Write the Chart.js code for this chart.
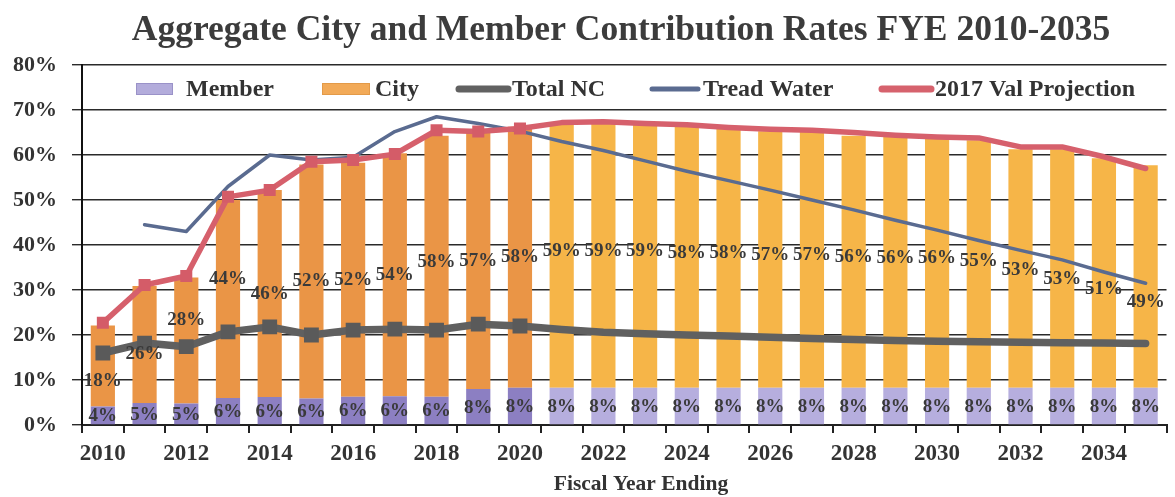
<!DOCTYPE html>
<html><head><meta charset="utf-8">
<script src="https://cdn.jsdelivr.net/npm/chart.js@4"></script>
<style>
html,body{margin:0;padding:0;background:#fff;overflow:hidden}
#wrap{position:absolute;left:0;top:0;width:1177px;height:497px}
</style>
</head><body><div id="wrap"><canvas id="c"></canvas></div>
<script>
const years = ['2010','2011','2012','2013','2014','2015','2016','2017','2018','2019','2020','2021','2022','2023','2024','2025','2026','2027','2028','2029','2030','2031','2032','2033','2034','2035'];
const memberRate = [4.1,4.9,4.8,6.0,6.2,5.9,6.3,6.4,6.3,8.0,8.3,8.3,8.3,8.3,8.3,8.3,8.3,8.3,8.3,8.3,8.3,8.3,8.3,8.3,8.3,8.3];
const cityRate = [18,26,28,44,46,52,52,54,58,57,58,59,59,59,58,58,57,57,56,56,56,55,53,53,51,49.4];
const totalNC = [16,18.2,17.4,20.7,21.8,20,21.1,21.3,21.1,22.4,22,21.2,20.6,20.3,20,19.8,19.5,19.2,19,18.8,18.6,18.5,18.4,18.3,18.2,18.1];
const treadWater = [null,44.5,43,53,60,58.9,59.5,65.2,68.5,67,65.3,63,61,58.7,56.4,54.3,52.2,50,47.8,45.5,43.3,41,38.8,36.7,34,31.5];
const valProjection = [22.7,31.1,33.1,50.7,52.2,58.5,58.9,60.2,65.5,65.2,65.9,67.2,67.4,67,66.7,66.1,65.7,65.5,65,64.4,64,63.8,61.8,61.8,59.6,57];
const yTickValues = [0,10,20,30,40,50,60,70,80];
const chartTitle = 'Aggregate City and Member Contribution Rates FYE 2010-2035';
const xAxisTitle = 'Fiscal Year Ending';

const SERIF = "'Liberation Serif','Times New Roman',serif";
const histCount = 11; // 2010-2020 are actuals

const cityLabelShift = [15,10,-20,-20,0,0,0,0,-4,0,0,-4,-4,-4,-4,-4,-4,-4,-5,-4,-4,-3,2,11,16,26];

const labelPlugin = {
  id: 'barLabels',
  afterDatasetsDraw(chart) {
    const ctx = chart.ctx;
    ctx.save();
    ctx.font = 'bold 19px ' + SERIF;
    ctx.fillStyle = '#3a3a3a';
    ctx.textAlign = 'center';
    ctx.textBaseline = 'middle';
    const mMeta = chart.getDatasetMeta(0);
    const cMeta = chart.getDatasetMeta(1);
    mMeta.data.forEach((bar, i) => {
      const v = chart.data.datasets[0].data[i];
      ctx.fillText(Math.round(v) + '%', bar.x, (bar.y + bar.base) / 2 + 1);
    });
    cMeta.data.forEach((bar, i) => {
      const v = chart.data.datasets[1].data[i];
      ctx.fillText(Math.round(v) + '%', bar.x, (bar.y + bar.base) / 2 + cityLabelShift[i]);
    });
    ctx.restore();
  }
};

const textPlugin = {
  id: 'titles',
  afterDraw(chart) {
    const ctx = chart.ctx;
    ctx.save();
    ctx.textAlign = 'center';
    ctx.textBaseline = 'alphabetic';
    ctx.fillStyle = '#3c3c3c';
    ctx.font = 'bold 35.5px ' + SERIF;
    ctx.fillText(chartTitle, 621, 40);
    ctx.fillStyle = '#333';
    ctx.font = 'bold 21.5px ' + SERIF;
    ctx.fillText(xAxisTitle, 641, 490);
    ctx.restore();
  }
};

const legendPlugin = {
  id: 'inLegend',
  afterDraw(chart) {
    const ctx = chart.ctx;
    const ds = chart.data.datasets;
    const y = 89;
    const items = [
      {i:0, kind:'box', x0:136, x1:173, tx:186, color:'#B3ACDB', stroke:'#9A92C8'},
      {i:1, kind:'box', x0:322, x1:370, tx:375, color:'#F2AA58', stroke:'#E39A48'},
      {i:2, kind:'line', x0:459, x1:508, tx:512, color:'#616161', w:7},
      {i:3, kind:'line', x0:652, x1:698, tx:703, color:'#5A6B90', w:5},
      {i:4, kind:'line', x0:882, x1:931, tx:935, color:'#D6626D', w:7}
    ];
    ctx.save();
    ctx.font = 'bold 24px ' + SERIF;
    ctx.textBaseline = 'middle';
    ctx.textAlign = 'left';
    items.forEach(it => {
      if (it.kind === 'box') {
        ctx.fillStyle = it.color;
        ctx.fillRect(it.x0, y - 6, it.x1 - it.x0, 12);
        ctx.strokeStyle = it.stroke; ctx.lineWidth = 1;
        ctx.strokeRect(it.x0 + 0.5, y - 5.5, it.x1 - it.x0 - 1, 11);
      } else {
        ctx.strokeStyle = it.color; ctx.lineWidth = it.w; ctx.lineCap = 'round';
        ctx.beginPath(); ctx.moveTo(it.x0, y); ctx.lineTo(it.x1, y); ctx.stroke();
      }
      ctx.fillStyle = '#333';
      ctx.fillText(ds[it.i].label, it.tx, y + 1);
    });
    ctx.restore();
  }
};

new Chart(document.getElementById('c'), {
  type: 'bar',
  data: {
    labels: years,
    datasets: [
      {label:'Member', data: memberRate, stack:'bars', order:10,
       backgroundColor: c => c.dataIndex < histCount ? '#8C7FC2' : '#B6AEDE'},
      {label:'City', data: cityRate, stack:'bars', order:11,
       backgroundColor: c => c.dataIndex < histCount ? '#EA9546' : '#F6B548'},
      {type:'line', label:'Total NC', data: totalNC, stack:'nc', order:3,
       borderColor:'#606060', backgroundColor:'#5a5a5a', borderWidth:7.5, tension:0,
       pointStyle:'rect', pointRadius: c => c.dataIndex < histCount ? 10.5 : 0,
       pointBorderWidth:0, borderCapStyle:'round', borderJoinStyle:'round'},
      {type:'line', label:'Tread Water', data: treadWater, stack:'tw', order:2,
       borderColor:'#5A6B90', borderWidth:3.5, tension:0, pointRadius:0,
       borderCapStyle:'round', borderJoinStyle:'round'},
      {type:'line', label:'2017 Val Projection', data: valProjection, stack:'val', order:1,
       borderColor:'#D6606C', backgroundColor:'#D45C68', borderWidth:5.5, tension:0,
       pointStyle:'rect', pointRadius: c => c.dataIndex < histCount ? 8.5 : 0,
       pointBorderWidth:0, borderCapStyle:'round', borderJoinStyle:'round'}
    ]
  },
  options: {
    responsive: true,
    maintainAspectRatio: false,
    animation: false,
    layout: {padding: {top: 65, left: 0, right: 0, bottom: 0}},
    categoryPercentage: 1.0,
    barPercentage: 0.58,
    plugins: {
      legend: {display: false},
      tooltip: {enabled: false},
      title: {display: false}
    },
    scales: {
      x: {
        stacked: true,
        offset: true,
        grid: {offset: true, drawOnChartArea: false, drawTicks: true, tickLength: 8, color:'#222', lineWidth: 2},
        border: {display: true, color:'#222', width: 2},
        ticks: {autoSkip:false, maxRotation:0, color:'#333', padding: 7,
          font:{family: SERIF, size: 23, weight:'bold'},
          callback: function(v, i) { return i % 2 === 0 ? this.getLabelForValue(v) : ''; }},
        afterFit(s) { s.height = 72; }
      },
      y: {
        stacked: true,
        min: 0, max: 80,
        afterBuildTicks(s) { s.ticks = yTickValues.map(v => ({value: v})); },
        grid: {color:'#2a2a2a', lineWidth: 1.4, tickLength: 10, drawTicks: true},
        border: {display: true, color:'#111', width: 2},
        ticks: {color:'#333', padding: 15, font:{family: SERIF, size: 22, weight:'bold'},
          callback: v => v + '%'},
        afterFit(s) { s.width = 82; }
      }
    }
  },
  plugins: [labelPlugin, legendPlugin, textPlugin]
});
</script>
</body></html>
